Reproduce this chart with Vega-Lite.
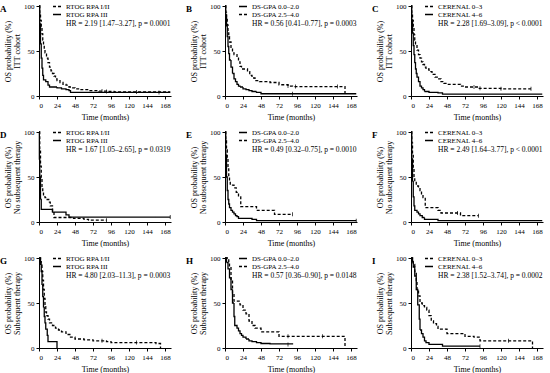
{
"$schema": "https://vega.github.io/schema/vega-lite/v6.json",
"padding": {"left": 0, "top": 1, "right": 0, "bottom": 0},
"columns": 3,
"spacing": {"row": 6, "column": 13},
"datasets": {
"km": [
{"panel":"A","group":"RTOG RPA I/II","t":0,"s":100},{"panel":"A","group":"RTOG RPA I/II","t":1,"s":92},{"panel":"A","group":"RTOG RPA I/II","t":2,"s":84},{"panel":"A","group":"RTOG RPA I/II","t":3,"s":76},{"panel":"A","group":"RTOG RPA I/II","t":4,"s":69},{"panel":"A","group":"RTOG RPA I/II","t":5,"s":62},{"panel":"A","group":"RTOG RPA I/II","t":6,"s":57},{"panel":"A","group":"RTOG RPA I/II","t":7,"s":52},{"panel":"A","group":"RTOG RPA I/II","t":8,"s":48},{"panel":"A","group":"RTOG RPA I/II","t":10,"s":42},{"panel":"A","group":"RTOG RPA I/II","t":12,"s":37},{"panel":"A","group":"RTOG RPA I/II","t":14,"s":32},{"panel":"A","group":"RTOG RPA I/II","t":16,"s":28},{"panel":"A","group":"RTOG RPA I/II","t":18,"s":25},{"panel":"A","group":"RTOG RPA I/II","t":20,"s":22},{"panel":"A","group":"RTOG RPA I/II","t":22,"s":19},{"panel":"A","group":"RTOG RPA I/II","t":24,"s":17},{"panel":"A","group":"RTOG RPA I/II","t":28,"s":15},{"panel":"A","group":"RTOG RPA I/II","t":32,"s":13},{"panel":"A","group":"RTOG RPA I/II","t":36,"s":12},{"panel":"A","group":"RTOG RPA I/II","t":40,"s":10},{"panel":"A","group":"RTOG RPA I/II","t":44,"s":9},{"panel":"A","group":"RTOG RPA I/II","t":48,"s":8},{"panel":"A","group":"RTOG RPA I/II","t":56,"s":7},{"panel":"A","group":"RTOG RPA I/II","t":66,"s":6},{"panel":"A","group":"RTOG RPA I/II","t":80,"s":5.5},{"panel":"A","group":"RTOG RPA I/II","t":90,"s":5},{"panel":"A","group":"RTOG RPA I/II","t":100,"s":4.5},{"panel":"A","group":"RTOG RPA I/II","t":175,"s":4.5},
{"panel":"A","group":"RTOG RPA III","t":0,"s":100},{"panel":"A","group":"RTOG RPA III","t":1,"s":80},{"panel":"A","group":"RTOG RPA III","t":2,"s":58},{"panel":"A","group":"RTOG RPA III","t":3,"s":42},{"panel":"A","group":"RTOG RPA III","t":4,"s":31},{"panel":"A","group":"RTOG RPA III","t":5,"s":23},{"panel":"A","group":"RTOG RPA III","t":6,"s":18},{"panel":"A","group":"RTOG RPA III","t":9,"s":16},{"panel":"A","group":"RTOG RPA III","t":12,"s":12},{"panel":"A","group":"RTOG RPA III","t":14,"s":10},{"panel":"A","group":"RTOG RPA III","t":24,"s":9},{"panel":"A","group":"RTOG RPA III","t":30,"s":8},{"panel":"A","group":"RTOG RPA III","t":36,"s":7},{"panel":"A","group":"RTOG RPA III","t":40,"s":6},{"panel":"A","group":"RTOG RPA III","t":42,"s":4},{"panel":"A","group":"RTOG RPA III","t":175,"s":4},
{"panel":"B","group":"DS-GPA 0.0–2.0","t":0,"s":100},{"panel":"B","group":"DS-GPA 0.0–2.0","t":1,"s":90},{"panel":"B","group":"DS-GPA 0.0–2.0","t":2,"s":78},{"panel":"B","group":"DS-GPA 0.0–2.0","t":3,"s":66},{"panel":"B","group":"DS-GPA 0.0–2.0","t":4,"s":55},{"panel":"B","group":"DS-GPA 0.0–2.0","t":5,"s":47},{"panel":"B","group":"DS-GPA 0.0–2.0","t":6,"s":40},{"panel":"B","group":"DS-GPA 0.0–2.0","t":8,"s":32},{"panel":"B","group":"DS-GPA 0.0–2.0","t":10,"s":25},{"panel":"B","group":"DS-GPA 0.0–2.0","t":12,"s":19},{"panel":"B","group":"DS-GPA 0.0–2.0","t":14,"s":16},{"panel":"B","group":"DS-GPA 0.0–2.0","t":16,"s":13},{"panel":"B","group":"DS-GPA 0.0–2.0","t":18,"s":11},{"panel":"B","group":"DS-GPA 0.0–2.0","t":20,"s":10},{"panel":"B","group":"DS-GPA 0.0–2.0","t":24,"s":8},{"panel":"B","group":"DS-GPA 0.0–2.0","t":28,"s":7},{"panel":"B","group":"DS-GPA 0.0–2.0","t":32,"s":6},{"panel":"B","group":"DS-GPA 0.0–2.0","t":36,"s":5},{"panel":"B","group":"DS-GPA 0.0–2.0","t":42,"s":4},{"panel":"B","group":"DS-GPA 0.0–2.0","t":48,"s":2.5},{"panel":"B","group":"DS-GPA 0.0–2.0","t":175,"s":2.5},
{"panel":"B","group":"DS-GPA 2.5–4.0","t":0,"s":100},{"panel":"B","group":"DS-GPA 2.5–4.0","t":1,"s":93},{"panel":"B","group":"DS-GPA 2.5–4.0","t":2,"s":86},{"panel":"B","group":"DS-GPA 2.5–4.0","t":3,"s":79},{"panel":"B","group":"DS-GPA 2.5–4.0","t":4,"s":72},{"panel":"B","group":"DS-GPA 2.5–4.0","t":5,"s":66},{"panel":"B","group":"DS-GPA 2.5–4.0","t":6,"s":60},{"panel":"B","group":"DS-GPA 2.5–4.0","t":8,"s":53},{"panel":"B","group":"DS-GPA 2.5–4.0","t":10,"s":48},{"panel":"B","group":"DS-GPA 2.5–4.0","t":12,"s":46},{"panel":"B","group":"DS-GPA 2.5–4.0","t":16,"s":43},{"panel":"B","group":"DS-GPA 2.5–4.0","t":18,"s":38},{"panel":"B","group":"DS-GPA 2.5–4.0","t":20,"s":33},{"panel":"B","group":"DS-GPA 2.5–4.0","t":22,"s":30},{"panel":"B","group":"DS-GPA 2.5–4.0","t":30,"s":27},{"panel":"B","group":"DS-GPA 2.5–4.0","t":33,"s":23},{"panel":"B","group":"DS-GPA 2.5–4.0","t":36,"s":20},{"panel":"B","group":"DS-GPA 2.5–4.0","t":40,"s":17},{"panel":"B","group":"DS-GPA 2.5–4.0","t":46,"s":16},{"panel":"B","group":"DS-GPA 2.5–4.0","t":60,"s":15},{"panel":"B","group":"DS-GPA 2.5–4.0","t":72,"s":12.5},{"panel":"B","group":"DS-GPA 2.5–4.0","t":84,"s":11},{"panel":"B","group":"DS-GPA 2.5–4.0","t":90,"s":10.5},{"panel":"B","group":"DS-GPA 2.5–4.0","t":160,"s":0},
{"panel":"C","group":"CERENAL 0–3","t":0,"s":100},{"panel":"C","group":"CERENAL 0–3","t":1,"s":92},{"panel":"C","group":"CERENAL 0–3","t":2,"s":84},{"panel":"C","group":"CERENAL 0–3","t":3,"s":76},{"panel":"C","group":"CERENAL 0–3","t":4,"s":68},{"panel":"C","group":"CERENAL 0–3","t":5,"s":62},{"panel":"C","group":"CERENAL 0–3","t":6,"s":57},{"panel":"C","group":"CERENAL 0–3","t":8,"s":51},{"panel":"C","group":"CERENAL 0–3","t":10,"s":46},{"panel":"C","group":"CERENAL 0–3","t":12,"s":42},{"panel":"C","group":"CERENAL 0–3","t":14,"s":38},{"panel":"C","group":"CERENAL 0–3","t":16,"s":35},{"panel":"C","group":"CERENAL 0–3","t":18,"s":32},{"panel":"C","group":"CERENAL 0–3","t":20,"s":30},{"panel":"C","group":"CERENAL 0–3","t":24,"s":27},{"panel":"C","group":"CERENAL 0–3","t":28,"s":24},{"panel":"C","group":"CERENAL 0–3","t":32,"s":21},{"panel":"C","group":"CERENAL 0–3","t":36,"s":19},{"panel":"C","group":"CERENAL 0–3","t":40,"s":16},{"panel":"C","group":"CERENAL 0–3","t":44,"s":14},{"panel":"C","group":"CERENAL 0–3","t":48,"s":13},{"panel":"C","group":"CERENAL 0–3","t":62,"s":13},{"panel":"C","group":"CERENAL 0–3","t":66,"s":11},{"panel":"C","group":"CERENAL 0–3","t":72,"s":10},{"panel":"C","group":"CERENAL 0–3","t":84,"s":10},{"panel":"C","group":"CERENAL 0–3","t":90,"s":8.5},{"panel":"C","group":"CERENAL 0–3","t":120,"s":8},{"panel":"C","group":"CERENAL 0–3","t":160,"s":8},
{"panel":"C","group":"CERENAL 4–6","t":0,"s":100},{"panel":"C","group":"CERENAL 4–6","t":1,"s":85},{"panel":"C","group":"CERENAL 4–6","t":2,"s":70},{"panel":"C","group":"CERENAL 4–6","t":3,"s":56},{"panel":"C","group":"CERENAL 4–6","t":4,"s":46},{"panel":"C","group":"CERENAL 4–6","t":5,"s":37},{"panel":"C","group":"CERENAL 4–6","t":6,"s":30},{"panel":"C","group":"CERENAL 4–6","t":7,"s":25},{"panel":"C","group":"CERENAL 4–6","t":8,"s":21},{"panel":"C","group":"CERENAL 4–6","t":10,"s":16},{"panel":"C","group":"CERENAL 4–6","t":12,"s":11},{"panel":"C","group":"CERENAL 4–6","t":14,"s":9},{"panel":"C","group":"CERENAL 4–6","t":16,"s":7},{"panel":"C","group":"CERENAL 4–6","t":18,"s":5},{"panel":"C","group":"CERENAL 4–6","t":24,"s":4},{"panel":"C","group":"CERENAL 4–6","t":36,"s":3.5},{"panel":"C","group":"CERENAL 4–6","t":42,"s":2},{"panel":"C","group":"CERENAL 4–6","t":175,"s":2},
{"panel":"D","group":"RTOG RPA I/II","t":0,"s":100},{"panel":"D","group":"RTOG RPA I/II","t":1,"s":80},{"panel":"D","group":"RTOG RPA I/II","t":2,"s":62},{"panel":"D","group":"RTOG RPA I/II","t":3,"s":48},{"panel":"D","group":"RTOG RPA I/II","t":4,"s":38},{"panel":"D","group":"RTOG RPA I/II","t":5,"s":32},{"panel":"D","group":"RTOG RPA I/II","t":6,"s":29},{"panel":"D","group":"RTOG RPA I/II","t":8,"s":27},{"panel":"D","group":"RTOG RPA I/II","t":10,"s":25},{"panel":"D","group":"RTOG RPA I/II","t":13,"s":22},{"panel":"D","group":"RTOG RPA I/II","t":15,"s":18},{"panel":"D","group":"RTOG RPA I/II","t":18,"s":12},{"panel":"D","group":"RTOG RPA I/II","t":20,"s":5},{"panel":"D","group":"RTOG RPA I/II","t":36,"s":5},{"panel":"D","group":"RTOG RPA I/II","t":46,"s":4},{"panel":"D","group":"RTOG RPA I/II","t":60,"s":3},{"panel":"D","group":"RTOG RPA I/II","t":66,"s":2},{"panel":"D","group":"RTOG RPA I/II","t":90,"s":2},
{"panel":"D","group":"RTOG RPA III","t":0,"s":100},{"panel":"D","group":"RTOG RPA III","t":0.5,"s":70},{"panel":"D","group":"RTOG RPA III","t":1,"s":50},{"panel":"D","group":"RTOG RPA III","t":2,"s":25},{"panel":"D","group":"RTOG RPA III","t":3,"s":14},{"panel":"D","group":"RTOG RPA III","t":18,"s":11},{"panel":"D","group":"RTOG RPA III","t":36,"s":8},{"panel":"D","group":"RTOG RPA III","t":40,"s":5.5},{"panel":"D","group":"RTOG RPA III","t":175,"s":5.5},
{"panel":"E","group":"DS-GPA 0.0–2.0","t":0,"s":100},{"panel":"E","group":"DS-GPA 0.0–2.0","t":1,"s":75},{"panel":"E","group":"DS-GPA 0.0–2.0","t":2,"s":50},{"panel":"E","group":"DS-GPA 0.0–2.0","t":3,"s":35},{"panel":"E","group":"DS-GPA 0.0–2.0","t":4,"s":25},{"panel":"E","group":"DS-GPA 0.0–2.0","t":5,"s":20},{"panel":"E","group":"DS-GPA 0.0–2.0","t":6,"s":16},{"panel":"E","group":"DS-GPA 0.0–2.0","t":8,"s":13},{"panel":"E","group":"DS-GPA 0.0–2.0","t":10,"s":11},{"panel":"E","group":"DS-GPA 0.0–2.0","t":12,"s":9},{"panel":"E","group":"DS-GPA 0.0–2.0","t":14,"s":7},{"panel":"E","group":"DS-GPA 0.0–2.0","t":16,"s":6},{"panel":"E","group":"DS-GPA 0.0–2.0","t":18,"s":4},{"panel":"E","group":"DS-GPA 0.0–2.0","t":36,"s":3},{"panel":"E","group":"DS-GPA 0.0–2.0","t":42,"s":1.5},{"panel":"E","group":"DS-GPA 0.0–2.0","t":175,"s":1.5},
{"panel":"E","group":"DS-GPA 2.5–4.0","t":0,"s":100},{"panel":"E","group":"DS-GPA 2.5–4.0","t":1,"s":90},{"panel":"E","group":"DS-GPA 2.5–4.0","t":2,"s":80},{"panel":"E","group":"DS-GPA 2.5–4.0","t":3,"s":70},{"panel":"E","group":"DS-GPA 2.5–4.0","t":4,"s":60},{"panel":"E","group":"DS-GPA 2.5–4.0","t":5,"s":50},{"panel":"E","group":"DS-GPA 2.5–4.0","t":6,"s":45},{"panel":"E","group":"DS-GPA 2.5–4.0","t":7,"s":41},{"panel":"E","group":"DS-GPA 2.5–4.0","t":12,"s":38},{"panel":"E","group":"DS-GPA 2.5–4.0","t":15,"s":33},{"panel":"E","group":"DS-GPA 2.5–4.0","t":18,"s":28},{"panel":"E","group":"DS-GPA 2.5–4.0","t":21,"s":17},{"panel":"E","group":"DS-GPA 2.5–4.0","t":42,"s":13},{"panel":"E","group":"DS-GPA 2.5–4.0","t":66,"s":8.5},{"panel":"E","group":"DS-GPA 2.5–4.0","t":90,"s":8.5},
{"panel":"F","group":"CERENAL 0–3","t":0,"s":100},{"panel":"F","group":"CERENAL 0–3","t":1,"s":88},{"panel":"F","group":"CERENAL 0–3","t":2,"s":75},{"panel":"F","group":"CERENAL 0–3","t":3,"s":60},{"panel":"F","group":"CERENAL 0–3","t":4,"s":50},{"panel":"F","group":"CERENAL 0–3","t":5,"s":44},{"panel":"F","group":"CERENAL 0–3","t":7,"s":40},{"panel":"F","group":"CERENAL 0–3","t":10,"s":38},{"panel":"F","group":"CERENAL 0–3","t":12,"s":35},{"panel":"F","group":"CERENAL 0–3","t":14,"s":30},{"panel":"F","group":"CERENAL 0–3","t":16,"s":27},{"panel":"F","group":"CERENAL 0–3","t":19,"s":16},{"panel":"F","group":"CERENAL 0–3","t":36,"s":13},{"panel":"F","group":"CERENAL 0–3","t":40,"s":10},{"panel":"F","group":"CERENAL 0–3","t":62,"s":10},{"panel":"F","group":"CERENAL 0–3","t":66,"s":7},{"panel":"F","group":"CERENAL 0–3","t":90,"s":7},
{"panel":"F","group":"CERENAL 4–6","t":0,"s":100},{"panel":"F","group":"CERENAL 4–6","t":1,"s":70},{"panel":"F","group":"CERENAL 4–6","t":2,"s":45},{"panel":"F","group":"CERENAL 4–6","t":3,"s":28},{"panel":"F","group":"CERENAL 4–6","t":4,"s":18},{"panel":"F","group":"CERENAL 4–6","t":5,"s":13},{"panel":"F","group":"CERENAL 4–6","t":8,"s":11},{"panel":"F","group":"CERENAL 4–6","t":10,"s":9},{"panel":"F","group":"CERENAL 4–6","t":12,"s":7},{"panel":"F","group":"CERENAL 4–6","t":15,"s":5},{"panel":"F","group":"CERENAL 4–6","t":18,"s":3},{"panel":"F","group":"CERENAL 4–6","t":36,"s":1.5},{"panel":"F","group":"CERENAL 4–6","t":175,"s":1.5},
{"panel":"G","group":"RTOG RPA I/II","t":0,"s":100},{"panel":"G","group":"RTOG RPA I/II","t":2,"s":96},{"panel":"G","group":"RTOG RPA I/II","t":3,"s":92},{"panel":"G","group":"RTOG RPA I/II","t":4,"s":85},{"panel":"G","group":"RTOG RPA I/II","t":5,"s":75},{"panel":"G","group":"RTOG RPA I/II","t":6,"s":65},{"panel":"G","group":"RTOG RPA I/II","t":7,"s":55},{"panel":"G","group":"RTOG RPA I/II","t":8,"s":46},{"panel":"G","group":"RTOG RPA I/II","t":9,"s":40},{"panel":"G","group":"RTOG RPA I/II","t":10,"s":36},{"panel":"G","group":"RTOG RPA I/II","t":12,"s":32},{"panel":"G","group":"RTOG RPA I/II","t":14,"s":28},{"panel":"G","group":"RTOG RPA I/II","t":18,"s":25},{"panel":"G","group":"RTOG RPA I/II","t":22,"s":22},{"panel":"G","group":"RTOG RPA I/II","t":26,"s":20},{"panel":"G","group":"RTOG RPA I/II","t":30,"s":18},{"panel":"G","group":"RTOG RPA I/II","t":36,"s":15},{"panel":"G","group":"RTOG RPA I/II","t":42,"s":12},{"panel":"G","group":"RTOG RPA I/II","t":48,"s":10},{"panel":"G","group":"RTOG RPA I/II","t":60,"s":9},{"panel":"G","group":"RTOG RPA I/II","t":72,"s":8},{"panel":"G","group":"RTOG RPA I/II","t":90,"s":7},{"panel":"G","group":"RTOG RPA I/II","t":96,"s":6},{"panel":"G","group":"RTOG RPA I/II","t":156,"s":5},{"panel":"G","group":"RTOG RPA I/II","t":162,"s":0},
{"panel":"G","group":"RTOG RPA III","t":0,"s":100},{"panel":"G","group":"RTOG RPA III","t":2,"s":93},{"panel":"G","group":"RTOG RPA III","t":3,"s":85},{"panel":"G","group":"RTOG RPA III","t":4,"s":70},{"panel":"G","group":"RTOG RPA III","t":5,"s":57},{"panel":"G","group":"RTOG RPA III","t":6,"s":45},{"panel":"G","group":"RTOG RPA III","t":7,"s":35},{"panel":"G","group":"RTOG RPA III","t":8,"s":28},{"panel":"G","group":"RTOG RPA III","t":9,"s":21},{"panel":"G","group":"RTOG RPA III","t":11,"s":14},{"panel":"G","group":"RTOG RPA III","t":12,"s":7},{"panel":"G","group":"RTOG RPA III","t":24,"s":0},
{"panel":"H","group":"DS-GPA 0.0–2.0","t":0,"s":100},{"panel":"H","group":"DS-GPA 0.0–2.0","t":2,"s":95},{"panel":"H","group":"DS-GPA 0.0–2.0","t":4,"s":88},{"panel":"H","group":"DS-GPA 0.0–2.0","t":6,"s":78},{"panel":"H","group":"DS-GPA 0.0–2.0","t":8,"s":65},{"panel":"H","group":"DS-GPA 0.0–2.0","t":10,"s":50},{"panel":"H","group":"DS-GPA 0.0–2.0","t":12,"s":35},{"panel":"H","group":"DS-GPA 0.0–2.0","t":13,"s":25},{"panel":"H","group":"DS-GPA 0.0–2.0","t":16,"s":22},{"panel":"H","group":"DS-GPA 0.0–2.0","t":18,"s":19},{"panel":"H","group":"DS-GPA 0.0–2.0","t":20,"s":16},{"panel":"H","group":"DS-GPA 0.0–2.0","t":22,"s":14},{"panel":"H","group":"DS-GPA 0.0–2.0","t":24,"s":12},{"panel":"H","group":"DS-GPA 0.0–2.0","t":28,"s":10},{"panel":"H","group":"DS-GPA 0.0–2.0","t":32,"s":8},{"panel":"H","group":"DS-GPA 0.0–2.0","t":36,"s":7},{"panel":"H","group":"DS-GPA 0.0–2.0","t":42,"s":6},{"panel":"H","group":"DS-GPA 0.0–2.0","t":48,"s":5},{"panel":"H","group":"DS-GPA 0.0–2.0","t":60,"s":4.5},{"panel":"H","group":"DS-GPA 0.0–2.0","t":90,"s":4},
{"panel":"H","group":"DS-GPA 2.5–4.0","t":0,"s":100},{"panel":"H","group":"DS-GPA 2.5–4.0","t":4,"s":100},{"panel":"H","group":"DS-GPA 2.5–4.0","t":5,"s":95},{"panel":"H","group":"DS-GPA 2.5–4.0","t":6,"s":90},{"panel":"H","group":"DS-GPA 2.5–4.0","t":8,"s":75},{"panel":"H","group":"DS-GPA 2.5–4.0","t":10,"s":60},{"panel":"H","group":"DS-GPA 2.5–4.0","t":12,"s":52},{"panel":"H","group":"DS-GPA 2.5–4.0","t":18,"s":52},{"panel":"H","group":"DS-GPA 2.5–4.0","t":20,"s":48},{"panel":"H","group":"DS-GPA 2.5–4.0","t":24,"s":42},{"panel":"H","group":"DS-GPA 2.5–4.0","t":28,"s":38},{"panel":"H","group":"DS-GPA 2.5–4.0","t":32,"s":30},{"panel":"H","group":"DS-GPA 2.5–4.0","t":36,"s":25},{"panel":"H","group":"DS-GPA 2.5–4.0","t":40,"s":22},{"panel":"H","group":"DS-GPA 2.5–4.0","t":48,"s":18},{"panel":"H","group":"DS-GPA 2.5–4.0","t":72,"s":13},{"panel":"H","group":"DS-GPA 2.5–4.0","t":160,"s":0},
{"panel":"I","group":"CERENAL 0–3","t":0,"s":100},{"panel":"I","group":"CERENAL 0–3","t":2,"s":97},{"panel":"I","group":"CERENAL 0–3","t":3,"s":93},{"panel":"I","group":"CERENAL 0–3","t":5,"s":85},{"panel":"I","group":"CERENAL 0–3","t":7,"s":75},{"panel":"I","group":"CERENAL 0–3","t":8,"s":65},{"panel":"I","group":"CERENAL 0–3","t":10,"s":58},{"panel":"I","group":"CERENAL 0–3","t":12,"s":50},{"panel":"I","group":"CERENAL 0–3","t":15,"s":47},{"panel":"I","group":"CERENAL 0–3","t":18,"s":45},{"panel":"I","group":"CERENAL 0–3","t":21,"s":42},{"panel":"I","group":"CERENAL 0–3","t":24,"s":36},{"panel":"I","group":"CERENAL 0–3","t":27,"s":30},{"panel":"I","group":"CERENAL 0–3","t":30,"s":27},{"panel":"I","group":"CERENAL 0–3","t":34,"s":24},{"panel":"I","group":"CERENAL 0–3","t":36,"s":21},{"panel":"I","group":"CERENAL 0–3","t":48,"s":16},{"panel":"I","group":"CERENAL 0–3","t":72,"s":13},{"panel":"I","group":"CERENAL 0–3","t":84,"s":12},{"panel":"I","group":"CERENAL 0–3","t":92,"s":8},{"panel":"I","group":"CERENAL 0–3","t":162,"s":0},
{"panel":"I","group":"CERENAL 4–6","t":0,"s":100},{"panel":"I","group":"CERENAL 4–6","t":2,"s":95},{"panel":"I","group":"CERENAL 4–6","t":3,"s":90},{"panel":"I","group":"CERENAL 4–6","t":5,"s":80},{"panel":"I","group":"CERENAL 4–6","t":7,"s":65},{"panel":"I","group":"CERENAL 4–6","t":9,"s":48},{"panel":"I","group":"CERENAL 4–6","t":11,"s":32},{"panel":"I","group":"CERENAL 4–6","t":12,"s":20},{"panel":"I","group":"CERENAL 4–6","t":14,"s":16},{"panel":"I","group":"CERENAL 4–6","t":16,"s":12},{"panel":"I","group":"CERENAL 4–6","t":18,"s":8},{"panel":"I","group":"CERENAL 4–6","t":20,"s":6},{"panel":"I","group":"CERENAL 4–6","t":24,"s":4},{"panel":"I","group":"CERENAL 4–6","t":42,"s":2},{"panel":"I","group":"CERENAL 4–6","t":92,"s":2}
],
"censor": [
{"panel":"A","t":84,"s":5.5},{"panel":"A","t":90,"s":5},{"panel":"A","t":130,"s":4.5},{"panel":"A","t":160,"s":4},
{"panel":"B","t":84,"s":11},{"panel":"B","t":94,"s":10.5},{"panel":"B","t":150,"s":10.5},{"panel":"B","t":90,"s":2.5},
{"panel":"C","t":84,"s":10},{"panel":"C","t":92,"s":8.5},{"panel":"C","t":120,"s":8},{"panel":"C","t":160,"s":8},
{"panel":"D","t":90,"s":2},{"panel":"D","t":175,"s":5.5},
{"panel":"E","t":90,"s":8.5},{"panel":"E","t":175,"s":1.5},
{"panel":"F","t":90,"s":7},{"panel":"F","t":62,"s":10},
{"panel":"G","t":84,"s":8},{"panel":"G","t":130,"s":6},
{"panel":"H","t":84,"s":4},{"panel":"H","t":84,"s":13},{"panel":"H","t":130,"s":13},
{"panel":"I","t":92,"s":2},{"panel":"I","t":130,"s":8}
],
"hr": [
{"panel":"A","letter":"A","label":"HR = 2.19 [1.47–3.27], p = 0.0001"},
{"panel":"B","letter":"B","label":"HR = 0.56 [0.41–0.77], p = 0.0003"},
{"panel":"C","letter":"C","label":"HR = 2.28 [1.69–3.09], p < 0.0001"},
{"panel":"D","letter":"D","label":"HR = 1.67 [1.05–2.65], p = 0.0319"},
{"panel":"E","letter":"E","label":"HR = 0.49 [0.32–0.75], p = 0.0010"},
{"panel":"F","letter":"F","label":"HR = 2.49 [1.64–3.77], p < 0.0001"},
{"panel":"G","letter":"G","label":"HR = 4.80 [2.03–11.3], p = 0.0003"},
{"panel":"H","letter":"H","label":"HR = 0.57 [0.36–0.90], p = 0.0148"},
{"panel":"I","letter":"I","label":"HR = 2.38 [1.52–3.74], p = 0.0002"}
]
},
"concat": [
{"width":132,"height":90,"layer":[
 {"data":{"name":"km"},"transform":[{"filter":"datum.panel === 'A'"}],"mark":{"type":"line","interpolate":"step-after","color":"black","strokeWidth":1.3},
  "encoding":{"x":{"field":"t","type":"quantitative","scale":{"domain":[0,176],"nice":false},"axis":{"values":[0,24,48,72,96,120,144,168],"tickCount":10,"labelOverlap":false,"title":"Time (months)"}},
   "y":{"field":"s","type":"quantitative","scale":{"domain":[0,100]},"axis":{"values":[0,50,100],"title":["OS probability (%)","ITT cohort"]}},
   "strokeDash":{"field":"group","type":"nominal","scale":{"domain":["RTOG RPA I/II","RTOG RPA III"],"range":[[3,2],[1,0]]},"legend":{"title":null,"orient":"none","legendX":13,"legendY":-4.5}}}},
 {"data":{"name":"censor"},"transform":[{"filter":"datum.panel === 'A'"}],"mark":{"type":"tick","orient":"vertical","size":4,"thickness":1,"color":"black"},"encoding":{"x":{"field":"t","type":"quantitative"},"y":{"field":"s","type":"quantitative"}}},
 {"data":{"name":"hr"},"transform":[{"filter":"datum.panel === 'A'"}],"mark":{"type":"text","align":"left","baseline":"middle","fontSize":7.5,"color":"black"},"encoding":{"x":{"datum":36,"type":"quantitative"},"y":{"datum":80.5,"type":"quantitative"},"text":{"field":"label"}}},
 {"data":{"name":"hr"},"transform":[{"filter":"datum.panel === 'A'"}],"mark":{"type":"text","align":"left","baseline":"middle","fontSize":9,"fontWeight":"bold","color":"black"},"encoding":{"x":{"datum":-52,"type":"quantitative"},"y":{"datum":97,"type":"quantitative"},"text":{"field":"letter"}}}
]},
{"width":132,"height":90,"layer":[
 {"data":{"name":"km"},"transform":[{"filter":"datum.panel === 'B'"}],"mark":{"type":"line","interpolate":"step-after","color":"black","strokeWidth":1.3},
  "encoding":{"x":{"field":"t","type":"quantitative","scale":{"domain":[0,176],"nice":false},"axis":{"values":[0,24,48,72,96,120,144,168],"tickCount":10,"labelOverlap":false,"title":"Time (months)"}},
   "y":{"field":"s","type":"quantitative","scale":{"domain":[0,100]},"axis":{"values":[0,50,100],"title":["OS probability (%)","ITT cohort"]}},
   "strokeDash":{"field":"group","type":"nominal","scale":{"domain":["DS-GPA 0.0–2.0","DS-GPA 2.5–4.0"],"range":[[1,0],[3,2]]},"legend":{"title":null,"orient":"none","legendX":13,"legendY":-4.5}}}},
 {"data":{"name":"censor"},"transform":[{"filter":"datum.panel === 'B'"}],"mark":{"type":"tick","orient":"vertical","size":4,"thickness":1,"color":"black"},"encoding":{"x":{"field":"t","type":"quantitative"},"y":{"field":"s","type":"quantitative"}}},
 {"data":{"name":"hr"},"transform":[{"filter":"datum.panel === 'B'"}],"mark":{"type":"text","align":"left","baseline":"middle","fontSize":7.5,"color":"black"},"encoding":{"x":{"datum":36,"type":"quantitative"},"y":{"datum":80.5,"type":"quantitative"},"text":{"field":"label"}}},
 {"data":{"name":"hr"},"transform":[{"filter":"datum.panel === 'B'"}],"mark":{"type":"text","align":"left","baseline":"middle","fontSize":9,"fontWeight":"bold","color":"black"},"encoding":{"x":{"datum":-52,"type":"quantitative"},"y":{"datum":97,"type":"quantitative"},"text":{"field":"letter"}}}
]},
{"width":132,"height":90,"layer":[
 {"data":{"name":"km"},"transform":[{"filter":"datum.panel === 'C'"}],"mark":{"type":"line","interpolate":"step-after","color":"black","strokeWidth":1.3},
  "encoding":{"x":{"field":"t","type":"quantitative","scale":{"domain":[0,176],"nice":false},"axis":{"values":[0,24,48,72,96,120,144,168],"tickCount":10,"labelOverlap":false,"title":"Time (months)"}},
   "y":{"field":"s","type":"quantitative","scale":{"domain":[0,100]},"axis":{"values":[0,50,100],"title":["OS probability (%)","ITT cohort"]}},
   "strokeDash":{"field":"group","type":"nominal","scale":{"domain":["CERENAL 0–3","CERENAL 4–6"],"range":[[3,2],[1,0]]},"legend":{"title":null,"orient":"none","legendX":13,"legendY":-4.5}}}},
 {"data":{"name":"censor"},"transform":[{"filter":"datum.panel === 'C'"}],"mark":{"type":"tick","orient":"vertical","size":4,"thickness":1,"color":"black"},"encoding":{"x":{"field":"t","type":"quantitative"},"y":{"field":"s","type":"quantitative"}}},
 {"data":{"name":"hr"},"transform":[{"filter":"datum.panel === 'C'"}],"mark":{"type":"text","align":"left","baseline":"middle","fontSize":7.5,"color":"black"},"encoding":{"x":{"datum":36,"type":"quantitative"},"y":{"datum":80.5,"type":"quantitative"},"text":{"field":"label"}}},
 {"data":{"name":"hr"},"transform":[{"filter":"datum.panel === 'C'"}],"mark":{"type":"text","align":"left","baseline":"middle","fontSize":9,"fontWeight":"bold","color":"black"},"encoding":{"x":{"datum":-52,"type":"quantitative"},"y":{"datum":97,"type":"quantitative"},"text":{"field":"letter"}}}
]},
{"width":132,"height":90,"layer":[
 {"data":{"name":"km"},"transform":[{"filter":"datum.panel === 'D'"}],"mark":{"type":"line","interpolate":"step-after","color":"black","strokeWidth":1.3},
  "encoding":{"x":{"field":"t","type":"quantitative","scale":{"domain":[0,176],"nice":false},"axis":{"values":[0,24,48,72,96,120,144,168],"tickCount":10,"labelOverlap":false,"title":"Time (months)"}},
   "y":{"field":"s","type":"quantitative","scale":{"domain":[0,100]},"axis":{"values":[0,50,100],"title":["OS probability (%)","No subsequent therapy"]}},
   "strokeDash":{"field":"group","type":"nominal","scale":{"domain":["RTOG RPA I/II","RTOG RPA III"],"range":[[3,2],[1,0]]},"legend":{"title":null,"orient":"none","legendX":13,"legendY":-4.5}}}},
 {"data":{"name":"censor"},"transform":[{"filter":"datum.panel === 'D'"}],"mark":{"type":"tick","orient":"vertical","size":4,"thickness":1,"color":"black"},"encoding":{"x":{"field":"t","type":"quantitative"},"y":{"field":"s","type":"quantitative"}}},
 {"data":{"name":"hr"},"transform":[{"filter":"datum.panel === 'D'"}],"mark":{"type":"text","align":"left","baseline":"middle","fontSize":7.5,"color":"black"},"encoding":{"x":{"datum":36,"type":"quantitative"},"y":{"datum":80.5,"type":"quantitative"},"text":{"field":"label"}}},
 {"data":{"name":"hr"},"transform":[{"filter":"datum.panel === 'D'"}],"mark":{"type":"text","align":"left","baseline":"middle","fontSize":9,"fontWeight":"bold","color":"black"},"encoding":{"x":{"datum":-52,"type":"quantitative"},"y":{"datum":97,"type":"quantitative"},"text":{"field":"letter"}}}
]},
{"width":132,"height":90,"layer":[
 {"data":{"name":"km"},"transform":[{"filter":"datum.panel === 'E'"}],"mark":{"type":"line","interpolate":"step-after","color":"black","strokeWidth":1.3},
  "encoding":{"x":{"field":"t","type":"quantitative","scale":{"domain":[0,176],"nice":false},"axis":{"values":[0,24,48,72,96,120,144,168],"tickCount":10,"labelOverlap":false,"title":"Time (months)"}},
   "y":{"field":"s","type":"quantitative","scale":{"domain":[0,100]},"axis":{"values":[0,50,100],"title":["OS probability (%)","No subsequent therapy"]}},
   "strokeDash":{"field":"group","type":"nominal","scale":{"domain":["DS-GPA 0.0–2.0","DS-GPA 2.5–4.0"],"range":[[1,0],[3,2]]},"legend":{"title":null,"orient":"none","legendX":13,"legendY":-4.5}}}},
 {"data":{"name":"censor"},"transform":[{"filter":"datum.panel === 'E'"}],"mark":{"type":"tick","orient":"vertical","size":4,"thickness":1,"color":"black"},"encoding":{"x":{"field":"t","type":"quantitative"},"y":{"field":"s","type":"quantitative"}}},
 {"data":{"name":"hr"},"transform":[{"filter":"datum.panel === 'E'"}],"mark":{"type":"text","align":"left","baseline":"middle","fontSize":7.5,"color":"black"},"encoding":{"x":{"datum":36,"type":"quantitative"},"y":{"datum":80.5,"type":"quantitative"},"text":{"field":"label"}}},
 {"data":{"name":"hr"},"transform":[{"filter":"datum.panel === 'E'"}],"mark":{"type":"text","align":"left","baseline":"middle","fontSize":9,"fontWeight":"bold","color":"black"},"encoding":{"x":{"datum":-52,"type":"quantitative"},"y":{"datum":97,"type":"quantitative"},"text":{"field":"letter"}}}
]},
{"width":132,"height":90,"layer":[
 {"data":{"name":"km"},"transform":[{"filter":"datum.panel === 'F'"}],"mark":{"type":"line","interpolate":"step-after","color":"black","strokeWidth":1.3},
  "encoding":{"x":{"field":"t","type":"quantitative","scale":{"domain":[0,176],"nice":false},"axis":{"values":[0,24,48,72,96,120,144,168],"tickCount":10,"labelOverlap":false,"title":"Time (months)"}},
   "y":{"field":"s","type":"quantitative","scale":{"domain":[0,100]},"axis":{"values":[0,50,100],"title":["OS probability (%)","No subsequent therapy"]}},
   "strokeDash":{"field":"group","type":"nominal","scale":{"domain":["CERENAL 0–3","CERENAL 4–6"],"range":[[3,2],[1,0]]},"legend":{"title":null,"orient":"none","legendX":13,"legendY":-4.5}}}},
 {"data":{"name":"censor"},"transform":[{"filter":"datum.panel === 'F'"}],"mark":{"type":"tick","orient":"vertical","size":4,"thickness":1,"color":"black"},"encoding":{"x":{"field":"t","type":"quantitative"},"y":{"field":"s","type":"quantitative"}}},
 {"data":{"name":"hr"},"transform":[{"filter":"datum.panel === 'F'"}],"mark":{"type":"text","align":"left","baseline":"middle","fontSize":7.5,"color":"black"},"encoding":{"x":{"datum":36,"type":"quantitative"},"y":{"datum":80.5,"type":"quantitative"},"text":{"field":"label"}}},
 {"data":{"name":"hr"},"transform":[{"filter":"datum.panel === 'F'"}],"mark":{"type":"text","align":"left","baseline":"middle","fontSize":9,"fontWeight":"bold","color":"black"},"encoding":{"x":{"datum":-52,"type":"quantitative"},"y":{"datum":97,"type":"quantitative"},"text":{"field":"letter"}}}
]},
{"width":132,"height":90,"layer":[
 {"data":{"name":"km"},"transform":[{"filter":"datum.panel === 'G'"}],"mark":{"type":"line","interpolate":"step-after","color":"black","strokeWidth":1.3},
  "encoding":{"x":{"field":"t","type":"quantitative","scale":{"domain":[0,176],"nice":false},"axis":{"values":[0,24,48,72,96,120,144,168],"tickCount":10,"labelOverlap":false,"title":"Time (months)"}},
   "y":{"field":"s","type":"quantitative","scale":{"domain":[0,100]},"axis":{"values":[0,50,100],"title":["OS probability (%)","Subsequent therapy"]}},
   "strokeDash":{"field":"group","type":"nominal","scale":{"domain":["RTOG RPA I/II","RTOG RPA III"],"range":[[3,2],[1,0]]},"legend":{"title":null,"orient":"none","legendX":13,"legendY":-4.5}}}},
 {"data":{"name":"censor"},"transform":[{"filter":"datum.panel === 'G'"}],"mark":{"type":"tick","orient":"vertical","size":4,"thickness":1,"color":"black"},"encoding":{"x":{"field":"t","type":"quantitative"},"y":{"field":"s","type":"quantitative"}}},
 {"data":{"name":"hr"},"transform":[{"filter":"datum.panel === 'G'"}],"mark":{"type":"text","align":"left","baseline":"middle","fontSize":7.5,"color":"black"},"encoding":{"x":{"datum":36,"type":"quantitative"},"y":{"datum":80.5,"type":"quantitative"},"text":{"field":"label"}}},
 {"data":{"name":"hr"},"transform":[{"filter":"datum.panel === 'G'"}],"mark":{"type":"text","align":"left","baseline":"middle","fontSize":9,"fontWeight":"bold","color":"black"},"encoding":{"x":{"datum":-52,"type":"quantitative"},"y":{"datum":97,"type":"quantitative"},"text":{"field":"letter"}}}
]},
{"width":132,"height":90,"layer":[
 {"data":{"name":"km"},"transform":[{"filter":"datum.panel === 'H'"}],"mark":{"type":"line","interpolate":"step-after","color":"black","strokeWidth":1.3},
  "encoding":{"x":{"field":"t","type":"quantitative","scale":{"domain":[0,176],"nice":false},"axis":{"values":[0,24,48,72,96,120,144,168],"tickCount":10,"labelOverlap":false,"title":"Time (months)"}},
   "y":{"field":"s","type":"quantitative","scale":{"domain":[0,100]},"axis":{"values":[0,50,100],"title":["OS probability (%)","Subsequent therapy"]}},
   "strokeDash":{"field":"group","type":"nominal","scale":{"domain":["DS-GPA 0.0–2.0","DS-GPA 2.5–4.0"],"range":[[1,0],[3,2]]},"legend":{"title":null,"orient":"none","legendX":13,"legendY":-4.5}}}},
 {"data":{"name":"censor"},"transform":[{"filter":"datum.panel === 'H'"}],"mark":{"type":"tick","orient":"vertical","size":4,"thickness":1,"color":"black"},"encoding":{"x":{"field":"t","type":"quantitative"},"y":{"field":"s","type":"quantitative"}}},
 {"data":{"name":"hr"},"transform":[{"filter":"datum.panel === 'H'"}],"mark":{"type":"text","align":"left","baseline":"middle","fontSize":7.5,"color":"black"},"encoding":{"x":{"datum":36,"type":"quantitative"},"y":{"datum":80.5,"type":"quantitative"},"text":{"field":"label"}}},
 {"data":{"name":"hr"},"transform":[{"filter":"datum.panel === 'H'"}],"mark":{"type":"text","align":"left","baseline":"middle","fontSize":9,"fontWeight":"bold","color":"black"},"encoding":{"x":{"datum":-52,"type":"quantitative"},"y":{"datum":97,"type":"quantitative"},"text":{"field":"letter"}}}
]},
{"width":132,"height":90,"layer":[
 {"data":{"name":"km"},"transform":[{"filter":"datum.panel === 'I'"}],"mark":{"type":"line","interpolate":"step-after","color":"black","strokeWidth":1.3},
  "encoding":{"x":{"field":"t","type":"quantitative","scale":{"domain":[0,176],"nice":false},"axis":{"values":[0,24,48,72,96,120,144,168],"tickCount":10,"labelOverlap":false,"title":"Time (months)"}},
   "y":{"field":"s","type":"quantitative","scale":{"domain":[0,100]},"axis":{"values":[0,50,100],"title":["OS probability (%)","Subsequent therapy"]}},
   "strokeDash":{"field":"group","type":"nominal","scale":{"domain":["CERENAL 0–3","CERENAL 4–6"],"range":[[3,2],[1,0]]},"legend":{"title":null,"orient":"none","legendX":13,"legendY":-4.5}}}},
 {"data":{"name":"censor"},"transform":[{"filter":"datum.panel === 'I'"}],"mark":{"type":"tick","orient":"vertical","size":4,"thickness":1,"color":"black"},"encoding":{"x":{"field":"t","type":"quantitative"},"y":{"field":"s","type":"quantitative"}}},
 {"data":{"name":"hr"},"transform":[{"filter":"datum.panel === 'I'"}],"mark":{"type":"text","align":"left","baseline":"middle","fontSize":7.5,"color":"black"},"encoding":{"x":{"datum":36,"type":"quantitative"},"y":{"datum":80.5,"type":"quantitative"},"text":{"field":"label"}}},
 {"data":{"name":"hr"},"transform":[{"filter":"datum.panel === 'I'"}],"mark":{"type":"text","align":"left","baseline":"middle","fontSize":9,"fontWeight":"bold","color":"black"},"encoding":{"x":{"datum":-52,"type":"quantitative"},"y":{"datum":97,"type":"quantitative"},"text":{"field":"letter"}}}
]}
],
"resolve": {"scale": {"strokeDash": "independent", "x": "independent", "y": "independent"}, "legend": {"strokeDash": "independent"}},
"config": {
 "font": "Liberation Serif",
 "view": {"stroke": null},
 "mark": {"color": "black"},
 "text": {"font": "Liberation Serif"},
 "axis": {"domainColor": "black", "tickColor": "black", "labelColor": "black", "titleColor": "black", "grid": false, "labelFontSize": 7, "titleFontSize": 8, "titleFontWeight": "normal", "tickSize": 3, "labelPadding": 2, "labelOverlap": false, "labelFont": "Liberation Serif", "titleFont": "Liberation Serif"},
 "axisX": {"titlePadding": 5},
 "axisY": {"titlePadding": 2, "titleLineHeight": 9.5},
 "legend": {"labelFontSize": 7, "labelFont": "Liberation Serif", "labelColor": "black", "symbolType": "stroke", "symbolSize": 64, "symbolStrokeWidth": 1.3, "symbolStrokeColor": "black", "rowPadding": -3, "labelOffset": 4, "padding": 0, "labelLimit": 200}
}
}
